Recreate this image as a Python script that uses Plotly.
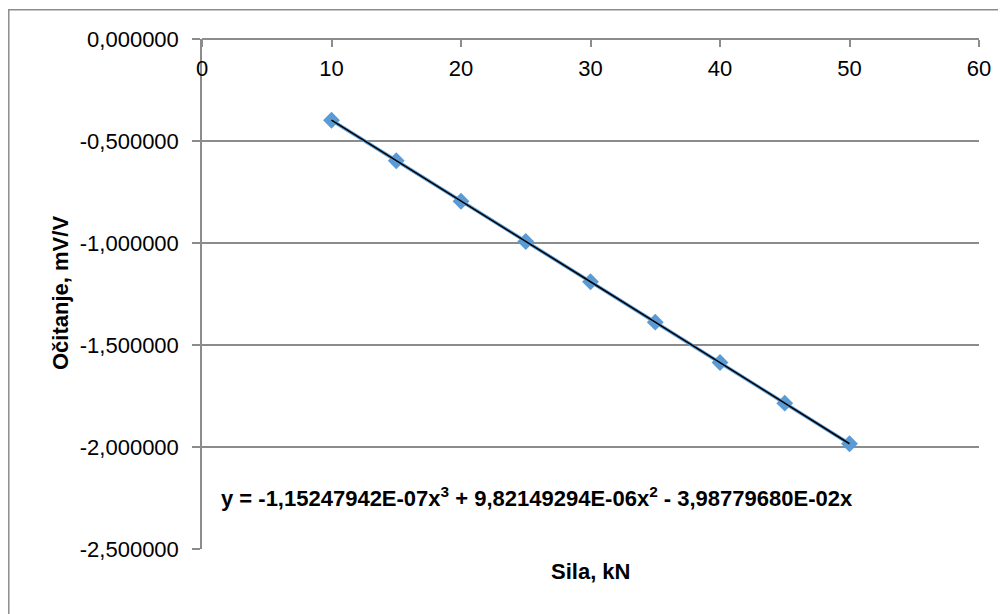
import plotly.graph_objects as go

# Data
sila_kN = [10, 15, 20, 25, 30, 35, 40, 45, 50]
ocitanje = [-0.398, -0.597, -0.795, -0.993, -1.190, -1.388, -1.586, -1.785, -1.984]

x_tickvals = [0, 10, 20, 30, 40, 50, 60]
x_ticktext = ["0", "10", "20", "30", "40", "50", "60"]
y_tickvals = [0, -0.5, -1.0, -1.5, -2.0, -2.5]
y_ticktext = ["0,000000", "-0,500000", "-1,000000", "-1,500000", "-2,000000", "-2,500000"]

equation = "y = -1,15247942E-07x<sup>3</sup> + 9,82149294E-06x<sup>2</sup> - 3,98779680E-02x"

# page body has an 8px margin; work in figure coordinates
OFF = 8
W, H = 1006 - OFF, 614 - OFF
L, R, T, B = 202 - OFF, 979 - OFF, 39 - OFF, 549 - OFF
pw, ph = R - L, B - T


def px(xw):
    return (xw - OFF - L) / pw


def py(yw):
    return (B - (yw - OFF)) / ph


FONT = "Liberation Sans, Arial, sans-serif"
FS = 22
GRID = "#8c8c8c"

fig = go.Figure()
fig.add_trace(go.Scatter(
    x=sila_kN, y=ocitanje, mode="lines+markers",
    line=dict(color="#5B9BD5", width=3.5),
    marker=dict(symbol="diamond", size=13, color="#5B9BD5"),
    showlegend=False, hoverinfo="skip"))
fig.add_trace(go.Scatter(
    x=sila_kN, y=ocitanje, mode="lines",
    line=dict(color="#000000", width=1.5),
    showlegend=False, hoverinfo="skip"))

fig.update_layout(
    width=W, height=H,
    margin=dict(l=L, r=W - R, t=T, b=H - B, autoexpand=False),
    paper_bgcolor="white", plot_bgcolor="white",
    font=dict(family=FONT, size=FS, color="#000000"),
    xaxis=dict(range=[0, 60], tickvals=x_tickvals, ticktext=x_ticktext,
               anchor="free", position=1, side="bottom",
               showline=True, linecolor=GRID, linewidth=1.5,
               ticks="outside", ticklen=7, tickcolor=GRID, tickwidth=1.5,
               ticklabelstandoff=3,
               showgrid=False, zeroline=False,
               tickfont=dict(family=FONT, size=FS)),
    yaxis=dict(range=[-2.5, 0], tickvals=y_tickvals, ticktext=y_ticktext,
               showline=True, linecolor=GRID, linewidth=1.5,
               ticks="outside", ticklen=8, tickcolor=GRID, tickwidth=1.5,
               ticklabelstandoff=9,
               showgrid=True, gridcolor=GRID, gridwidth=1.5, zeroline=False,
               tickfont=dict(family=FONT, size=FS)),
)

# outer chart border (left and top edges visible)
fig.add_shape(type="line", xref="paper", yref="paper",
              x0=px(8.8), x1=px(8.8), y0=py(9), y1=py(660),
              line=dict(color=GRID, width=1.5))
fig.add_shape(type="line", xref="paper", yref="paper",
              x0=px(8), x1=px(1060), y0=py(9.8), y1=py(9.8),
              line=dict(color=GRID, width=1.5))

fig.add_annotation(text="<b>Sila, kN</b>", xref="paper", yref="paper",
                   x=px(590), y=py(571), xanchor="center", yanchor="middle",
                   showarrow=False, font=dict(family=FONT, size=FS))
fig.add_annotation(text="<b>Očitanje, mV/V</b>", xref="paper", yref="paper",
                   x=px(60), y=py(293), xanchor="center", yanchor="middle",
                   showarrow=False, textangle=-90,
                   font=dict(family=FONT, size=FS))
fig.add_annotation(text="<b>" + equation + "</b>", xref="paper", yref="paper",
                   x=px(219), y=py(497), xanchor="left", yanchor="middle",
                   showarrow=False, font=dict(family=FONT, size=FS))

fig.write_html("out.html")
